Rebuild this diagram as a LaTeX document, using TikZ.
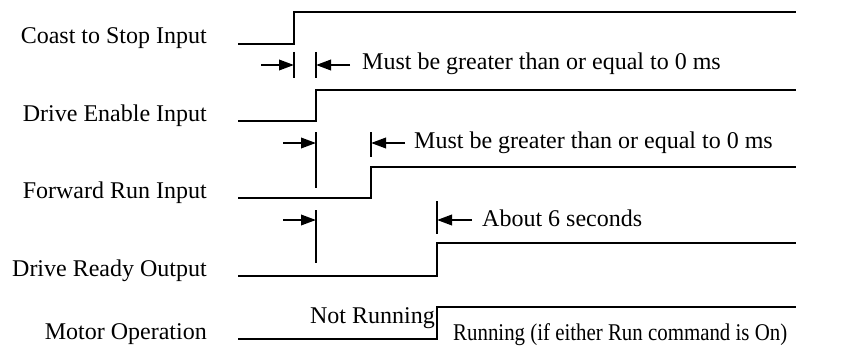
\documentclass[tikz,border=0pt]{standalone}
\usepackage{fontspec}
\setmainfont{Liberation Serif}
\newfontfamily\narrowserif[FakeStretch=0.87]{Liberation Serif}
\usetikzlibrary{arrows.meta}
\begin{document}
\begin{tikzpicture}[x=1pt,y=-1pt,
  sig/.style={line width=2pt,line join=miter},
  tick/.style={line width=2pt},
  dim/.style={line width=2pt,-{Triangle[length=15pt,width=10.5pt]}},
  lbl/.style={anchor=base east,inner sep=0pt,font=\fontsize{24}{28}\selectfont},
  note/.style={anchor=base west,inner sep=0pt,font=\fontsize{24}{28}\selectfont}]
\useasboundingbox (0,0) rectangle (845,345);

% signal names, baselines on the low level of each trace
\node[lbl] (l1) at (207,44) {Coast to Stop Input};
\node[lbl] (l2) at (207,121) {Drive Enable Input};
\node[lbl] (l3) at (207,198) {Forward Run Input};
\node[lbl] (l4) at (207,276) {Drive Ready Output};
\node[lbl] (l5) at (207,339) {Motor Operation};

% traces
\draw[sig] (238,44) -- (294,44) -- (294,12) -- (796,12);
\draw[sig] (238,121) -- (316,121) -- (316,90) -- (796,90);
\draw[sig] (238,198) -- (371,198) -- (371,167) -- (796,167);
\draw[sig] (238,276) -- (437,276) -- (437,243) -- (796,243);
\draw[sig] (238,339) -- (437,339) -- (437,307) -- (796,307);

% timing marks
\coordinate (a1) at (294,52); \coordinate (a1b) at (294,78);
\coordinate (b1) at (316,52); \coordinate (b1b) at (316,78);
\draw[tick] (a1) -- (a1b);
\draw[tick] (b1) -- (b1b);
\coordinate (a1s) at (261,65); \coordinate (a1e) at (294,65);
\coordinate (b1s) at (350,65); \coordinate (b1e) at (316,65);
\draw[dim] (a1s) -- (a1e);
\draw[dim] (b1s) -- (b1e);
\node[note] (t1) at (362,70) {Must be greater than or equal to 0 ms};

\coordinate (a2) at (316,132); \coordinate (a2b) at (316,188);
\coordinate (b2) at (371,132); \coordinate (b2b) at (371,157);
\draw[tick] (a2) -- (a2b);
\draw[tick] (b2) -- (b2b);
\coordinate (a2s) at (283,143); \coordinate (a2e) at (316,143);
\coordinate (b2s) at (405,143); \coordinate (b2e) at (371,143);
\draw[dim] (a2s) -- (a2e);
\draw[dim] (b2s) -- (b2e);
\node[note] (t2) at (414,148) {Must be greater than or equal to 0 ms};

\coordinate (a3) at (316,210); \coordinate (a3b) at (316,263);
\coordinate (b3) at (437,201); \coordinate (b3b) at (437,234);
\draw[tick] (a3) -- (a3b);
\draw[tick] (b3) -- (b3b);
\coordinate (a3s) at (283,220); \coordinate (a3e) at (316,220);
\coordinate (b3s) at (472,220); \coordinate (b3e) at (437,220);
\draw[dim] (a3s) -- (a3e);
\draw[dim] (b3s) -- (b3e);
\node[note] (t3) at (482,226) {About 6 seconds};

% motor state texts
\node[lbl] (m1) at (435,323) {Not Running};
\node[note,font=\fontsize{24}{28}\narrowserif] (m2) at (453,340) {Running (if either Run command is On)};
\end{tikzpicture}
\end{document}
